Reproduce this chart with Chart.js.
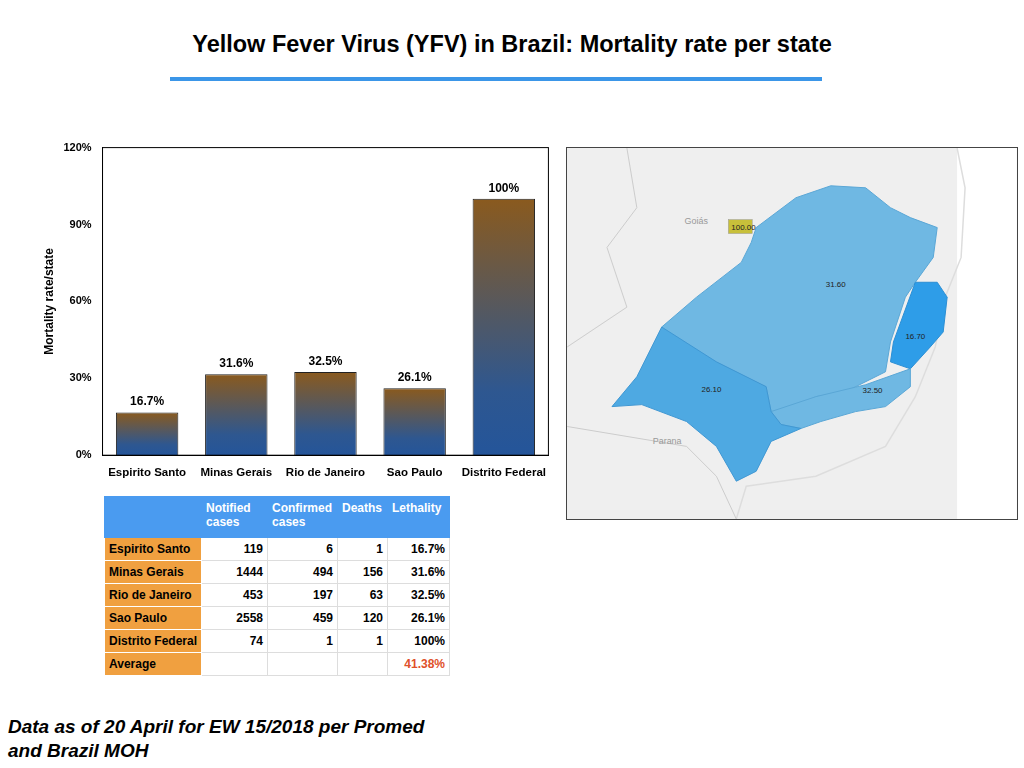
<!DOCTYPE html>
<html>
<head>
<meta charset="utf-8">
<script src="https://cdn.jsdelivr.net/npm/chart.js@4"></script>
<style>
  body { margin: 0; width: 1024px; height: 768px; background: #fff; font-family: "Liberation Sans", Arial, sans-serif; position: relative; overflow: hidden; }
  #title { position: absolute; top: 31px; left: 0; width: 1024px; text-align: center; font-size: 23.5px; font-weight: bold; }
  #rule { position: absolute; top: 77px; left: 170px; width: 652px; height: 4px; background: #3b96e8; }
  #chartBox { position: absolute; left: 38px; top: 138px; width: 511px; height: 345px; }
  table { position: absolute; left: 104px; top: 496px; border-collapse: collapse; font-size: 12px; font-weight: bold; }
  td { border: 1px solid #ddd; padding: 2px 4px; height: 18px; white-space: nowrap; }
  tr.head td { background: #4a9bf0; color: #fff; height: 34px; vertical-align: top; padding-top: 4px; border-color: #4a9bf0; }
  td.st { background: #f0a040; width: 88px; border-color: #fff; }
  td.n { text-align: right; }
  #map { position: absolute; left: 566px; top: 147px; width: 452px; height: 373px; border: 1px solid #444; box-sizing: border-box; background: #efefef; }
  #foot { position: absolute; left: 8px; top: 715px; font-size: 19px; font-weight: bold; font-style: italic; line-height: 24px; }
</style>
</head>
<body>
<div id="title">Yellow Fever Virus (YFV) in Brazil: Mortality rate per state</div>
<div id="rule"></div>
<div id="chartBox"><canvas id="rateChart"></canvas></div>
<table id="tbl"></table>
<svg id="map" viewBox="0 0 452 373">
  <rect x="392" y="0" width="60" height="373" fill="#ffffff"/>
  <path d="M392 0 L400 40 L396 110 L380 150 L370 200 L350 250 L320 300 L250 330 L180 340 L170 373" fill="none" stroke="#ddd" stroke-width="1.5"/>
  <path d="M60 0 L70 60 L40 100 L60 160 L0 200 M0 280 L120 300 L150 330 L170 373" fill="none" stroke="#ccc" stroke-width="1"/>
  <text x="118" y="76" font-size="9" fill="#999">Goiás</text>
  <text x="86" y="298" font-size="9" fill="#999">Parana</text>
  <path d="M190 80 L230 50 L265 38 L300 40 L325 60 L345 70 L372 80 L368 110 L350 135 L340 150 L325 195 L320 225 L280 245 L250 250 L225 262 L205 265 L200 240 L150 215 L105 200 L95 180 L130 150 L175 115 L185 95 Z" fill="#6fb8e3" stroke="#5aa6d6"/>
  <path d="M350 135 L372 135 L382 150 L378 185 L365 200 L345 222 L325 215 L328 195 Z" fill="#2e9de8" stroke="#2a8ed4"/>
  <path d="M205 265 L250 250 L300 238 L345 222 L345 240 L320 260 L290 265 L255 275 L235 282 L215 278 Z" fill="#6fb8e3" stroke="#5aa6d6"/>
  <path d="M95 180 L150 215 L200 240 L205 265 L215 278 L235 282 L205 295 L190 325 L170 335 L150 300 L120 275 L75 258 L45 260 L70 230 Z" fill="#4ea9e2" stroke="#3f97d3"/>
  <rect x="162" y="72" width="24" height="14" fill="#c8c03a" stroke="#999" stroke-width="0.5"/>
  <g font-size="8" fill="#222" font-family="Liberation Sans">
    <text x="165" y="82">100.00</text>
    <text x="260" y="140">31.60</text>
    <text x="340" y="192">16.70</text>
    <text x="135" y="245">26.10</text>
    <text x="297" y="246">32.50</text>
  </g>
</svg>
<div id="foot">Data as of 20 April for EW 15/2018 per Promed<br>and Brazil MOH</div>
<script>
const states = ["Espirito Santo", "Minas Gerais", "Rio de Janeiro", "Sao Paulo", "Distrito Federal"];
const rates = [16.7, 31.6, 32.5, 26.1, 100];
const rateLabels = ["16.7%", "31.6%", "32.5%", "26.1%", "100%"];
const notified = [119, 1444, 453, 2558, 74];
const confirmed = [6, 494, 197, 459, 1];
const deaths = [1, 156, 63, 120, 1];
const averageLethality = "41.38%";

// table
var tbl = document.getElementById("tbl");
var html = '<tr class="head"><td style="width:88px"></td><td style="width:57px">Notified<br>cases</td><td style="width:61px">Confirmed<br>cases</td><td style="width:41px">Deaths</td><td style="width:53px">Lethality</td></tr>';
states.forEach((s, i) => {
  html += `<tr><td class="st">${s}</td><td class="n">${notified[i]}</td><td class="n">${confirmed[i]}</td><td class="n">${deaths[i]}</td><td class="n">${rateLabels[i]}</td></tr>`;
});
html += `<tr><td class="st">Average</td><td></td><td></td><td></td><td class="n" style="color:#e0502a">${averageLethality}</td></tr>`;
tbl.innerHTML = html;

const barLabels = {
  id: "barLabels",
  afterDatasetsDraw(chart) {
    const ctx = chart.ctx;
    ctx.save();
    ctx.font = "bold 12px 'Liberation Sans', Arial";
    ctx.fillStyle = "#000";
    ctx.textAlign = "center";
    chart.getDatasetMeta(0).data.forEach((bar, i) => {
      ctx.fillText(rateLabels[i], bar.x, bar.y - 7);
    });
    ctx.restore();
  }
};

// each bar gets its own gradient: blue at the base, brown at its top
function barGradient(context) {
  const chart = context.chart;
  const area = chart.chartArea;
  if (!area || context.type !== "data") return "#555";
  const top = chart.scales.y.getPixelForValue(rates[context.dataIndex]);
  const g = chart.ctx.createLinearGradient(0, area.bottom, 0, top);
  g.addColorStop(0, "#24559a");
  g.addColorStop(0.25, "#2e5790");
  g.addColorStop(1, "#8a5a1e");
  return g;
}

new Chart(document.getElementById("rateChart"), {
  type: "bar",
  data: {
    labels: states,
    datasets: [{
      data: rates,
      backgroundColor: barGradient,
      borderColor: "#222",
      borderWidth: 1,
      categoryPercentage: 0.7,
      barPercentage: 1
    }]
  },
  options: {
    responsive: true,
    maintainAspectRatio: false,
    animation: false,
    plugins: { legend: { display: false }, tooltip: { enabled: false } },
    scales: {
      x: {
        grid: { display: false },
        border: { color: "#000" },
        ticks: { color: "#000", font: { size: 11.5, weight: "bold" }, maxRotation: 0, autoSkip: false }
      },
      y: {
        min: 0, max: 120,
        ticks: { stepSize: 30, color: "#000", font: { size: 11, weight: "bold" }, callback: v => v + "%" },
        grid: { display: false },
        border: { color: "#000" },
        title: { display: true, text: "Mortality rate/state", color: "#000", font: { size: 12, weight: "bold" } }
      }
    }
  },
  plugins: [barLabels, {
    id: "frame",
    afterDraw(chart) {
      const a = chart.chartArea, c = chart.ctx;
      c.save(); c.strokeStyle = "#000"; c.lineWidth = 1;
      c.strokeRect(a.left, a.top, a.right - a.left, a.bottom - a.top);
      c.restore();
    }
  }]
});
</script>
</body>
</html>
